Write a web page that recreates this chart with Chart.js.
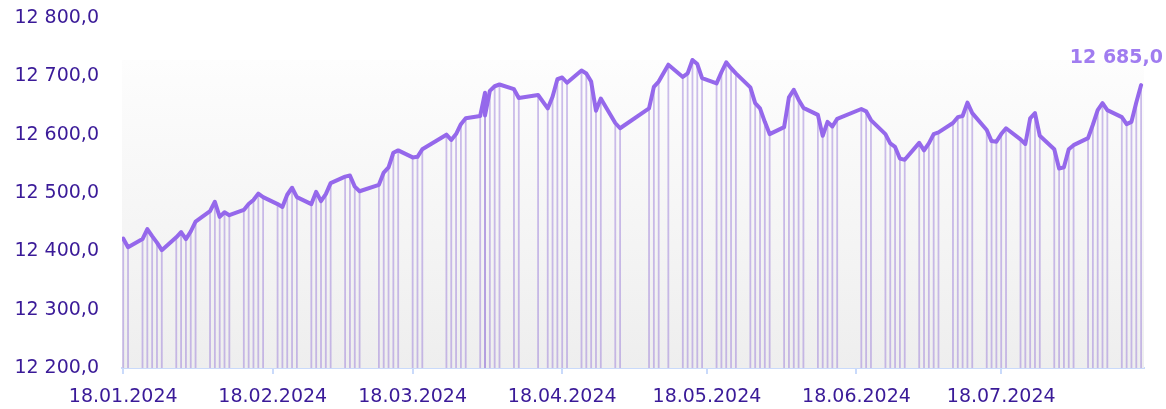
<!DOCTYPE html>
<html>
<head>
<meta charset="utf-8">
<script src="https://cdn.jsdelivr.net/npm/chart.js@4.4.1/dist/chart.umd.min.js"></script>
<style>
  html, body { margin: 0; padding: 0; background: #fff; }
  #wrap { width: 1166px; height: 409px; }
</style>
</head>
<body>
<div id="wrap"><canvas id="index-chart"></canvas></div>
<script>
// торговые дни и значения индекса
const dates = [
    '18.01.2024', '19.01.2024', '22.01.2024', '23.01.2024', '24.01.2024', '25.01.2024', '26.01.2024', '29.01.2024', '30.01.2024', '31.01.2024',
    '01.02.2024', '02.02.2024', '05.02.2024', '06.02.2024', '07.02.2024', '08.02.2024', '09.02.2024', '12.02.2024', '13.02.2024', '14.02.2024',
    '15.02.2024', '16.02.2024', '19.02.2024', '20.02.2024', '21.02.2024', '22.02.2024', '23.02.2024', '26.02.2024', '27.02.2024', '28.02.2024', '29.02.2024',
    '01.03.2024', '04.03.2024', '05.03.2024', '06.03.2024', '07.03.2024', '11.03.2024', '12.03.2024', '13.03.2024', '14.03.2024', '15.03.2024',
    '18.03.2024', '19.03.2024', '20.03.2024', '25.03.2024', '26.03.2024', '27.03.2024', '28.03.2024', '29.03.2024',
    '01.04.2024', '02.04.2024', '02.04.2024', '03.04.2024', '04.04.2024', '05.04.2024', '08.04.2024', '09.04.2024', '13.04.2024', '15.04.2024',
    '16.04.2024', '17.04.2024', '18.04.2024', '19.04.2024', '22.04.2024', '23.04.2024', '24.04.2024', '25.04.2024', '26.04.2024', '29.04.2024', '30.04.2024',
    '06.05.2024', '07.05.2024', '08.05.2024', '10.05.2024', '13.05.2024', '14.05.2024', '15.05.2024', '16.05.2024', '17.05.2024', '20.05.2024',
    '21.05.2024', '22.05.2024', '23.05.2024', '24.05.2024', '27.05.2024', '28.05.2024', '29.05.2024', '30.05.2024', '31.05.2024',
    '03.06.2024', '04.06.2024', '05.06.2024', '06.06.2024', '07.06.2024', '10.06.2024', '11.06.2024', '12.06.2024', '13.06.2024', '14.06.2024',
    '19.06.2024', '20.06.2024', '21.06.2024', '24.06.2024', '25.06.2024', '26.06.2024', '27.06.2024', '28.06.2024',
    '01.07.2024', '02.07.2024', '03.07.2024', '04.07.2024', '05.07.2024', '08.07.2024', '09.07.2024', '10.07.2024', '11.07.2024', '12.07.2024',
    '15.07.2024', '16.07.2024', '17.07.2024', '18.07.2024', '19.07.2024', '22.07.2024', '23.07.2024', '24.07.2024', '25.07.2024', '26.07.2024',
    '29.07.2024', '30.07.2024', '31.07.2024',
    '01.08.2024', '02.08.2024', '05.08.2024', '06.08.2024', '07.08.2024', '08.08.2024', '09.08.2024', '12.08.2024', '13.08.2024', '14.08.2024',
    '15.08.2024', '16.08.2024'
];
const values = [
    12422, 12407, 12421, 12438, 12426, 12415, 12402, 12424, 12433, 12421,
    12434, 12451, 12469, 12485, 12459, 12467, 12462, 12471, 12481, 12488,
    12499, 12493, 12481, 12476, 12497, 12509, 12493, 12481, 12502, 12486, 12498,
    12517, 12528, 12530, 12511, 12503, 12514, 12535, 12544, 12569, 12573,
    12561, 12562, 12575, 12600, 12591, 12601, 12618, 12628,
    12632, 12672, 12633, 12675, 12683, 12686, 12678, 12663, 12668, 12645,
    12665, 12695, 12698, 12689, 12710, 12705, 12691, 12641, 12662, 12620, 12611,
    12645, 12682, 12691, 12720, 12699, 12705, 12728, 12721, 12697, 12688,
    12707, 12724, 12714, 12705, 12681, 12654, 12645, 12622, 12601,
    12613, 12664, 12677, 12660, 12646, 12634, 12598, 12622, 12614, 12627,
    12644, 12640, 12625, 12601, 12585, 12579, 12559, 12557,
    12586, 12573, 12585, 12601, 12604, 12620, 12630, 12632, 12655, 12637,
    12608, 12589, 12588, 12601, 12611, 12592, 12584, 12628, 12637, 12598,
    12575, 12542, 12544,
    12575, 12582, 12594, 12617, 12642, 12654, 12642, 12630, 12618, 12622,
    12655, 12685
];
const tickDates = ['18.01.2024', '18.02.2024', '18.03.2024', '18.04.2024', '18.05.2024', '18.06.2024', '18.07.2024'];
const yTicks = { min: 12200, max: 12800, step: 100 };

const textColor = '#3a1a98';
const lineColor = '#9568eb';
const axisColor = '#c9dafb';

Chart.defaults.font.family = "'DejaVu Sans', sans-serif";
Chart.defaults.font.size = 19;

function toDay(s) {
    const [d, m, y] = s.split('.').map(Number);
    const [d0, m0, y0] = dates[0].split('.').map(Number);
    return (Date.UTC(y, m - 1, d) - Date.UTC(y0, m0 - 1, d0)) / 86400000;
}

function fmt(v) {
    const [int, dec] = Number(v).toFixed(1).split('.');
    return int.replace(/\B(?=(\d{3})+(?!\d))/g, ' ') + ',' + dec;
}

const points = dates.map((d, i) => ({ x: toDay(d), y: values[i] }));
const lastDay = toDay(dates[dates.length - 1]);

// фон, вертикальные линии и подпись последнего значения
const decor = {
    id: 'decor',
    beforeDatasetsDraw(chart) {
        const { ctx, chartArea: a, scales: { y } } = chart;
        const top = y.getPixelForValue(Math.max(...values));
        const g = ctx.createLinearGradient(0, top, 0, a.bottom);
        g.addColorStop(0, '#fdfdfd');
        g.addColorStop(1, '#eeeeee');
        ctx.save();
        ctx.fillStyle = g;
        ctx.fillRect(a.left, top, a.right - a.left, a.bottom - top);

        ctx.strokeStyle = 'rgba(150, 120, 215, 0.48)';
        ctx.lineWidth = 1.8;
        chart.getDatasetMeta(0).data.forEach(p => {
            ctx.beginPath();
            ctx.moveTo(p.x, p.y);
            ctx.lineTo(p.x, a.bottom);
            ctx.stroke();
        });
        ctx.restore();
    },
    afterDatasetsDraw(chart) {
        const { ctx } = chart;
        const pts = chart.getDatasetMeta(0).data;
        const last = pts[pts.length - 1];
        ctx.save();
        ctx.font = "bold 19px 'DejaVu Sans', sans-serif";
        ctx.fillStyle = '#a07cf0';
        ctx.textAlign = 'right';
        ctx.textBaseline = 'middle';
        ctx.fillText(fmt(values[values.length - 1]), chart.width - 3, last.y - 27);
        ctx.restore();
    }
};

const ctx = document.getElementById('index-chart').getContext('2d');
const chart = new Chart(ctx, {
    type: 'line',
    data: {
        datasets: [{
            data: points,
            borderColor: lineColor,
            borderWidth: 4,
            pointRadius: 0,
            tension: 0,
            fill: false,
            borderJoinStyle: 'round',
            borderCapStyle: 'round'
        }]
    },
    options: {
        responsive: true,
        maintainAspectRatio: false,
        animation: false,
        layout: { padding: { top: 18, right: 22, bottom: 0, left: 0 } },
        plugins: { legend: { display: false }, tooltip: { enabled: false } },
        scales: {
            x: {
                type: 'linear',
                min: -0.25,
                max: lastDay + 0.6,
                afterBuildTicks: s => { s.ticks = tickDates.map(t => ({ value: toDay(t) })); },
                afterFit: s => { s.height = 41; },
                ticks: {
                    autoSkip: false,
                    maxRotation: 0,
                    padding: 12,
                    color: textColor,
                    callback: (v, i) => tickDates[i]
                },
                grid: { drawOnChartArea: false, drawTicks: true, tickLength: 6, color: axisColor, lineWidth: 2 },
                border: { display: true, color: axisColor, width: 2 }
            },
            y: {
                min: yTicks.min,
                max: yTicks.max,
                afterFit: s => { s.width = 122; },
                ticks: { stepSize: yTicks.step, padding: 0, color: textColor, callback: v => fmt(v) },
                grid: { display: false, drawTicks: true, tickLength: 23 },
                border: { display: false }
            }
        }
    },
    plugins: [decor]
});
</script>
</body>
</html>
